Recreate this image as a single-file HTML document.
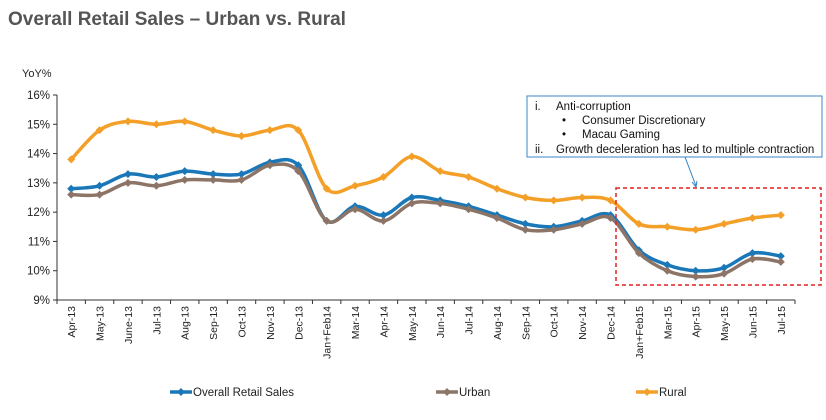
<!DOCTYPE html>
<html><head><meta charset="utf-8"><style>
body{margin:0;background:#fff;width:826px;height:415px;overflow:hidden;font-family:"Liberation Sans",sans-serif;}
svg text{font-family:"Liberation Sans",sans-serif;}
</style></head><body>
<svg id="c" width="826" height="415">
<text x="8" y="25" font-size="19" font-weight="bold" fill="#555">Overall Retail Sales – Urban vs. Rural</text>
<text x="22" y="77" font-size="11" fill="#222">YoY%</text>
<g id="axes"></g><g id="series"></g>
<rect x="616" y="188" width="205" height="97" fill="none" stroke="#e02020" stroke-width="1.5" stroke-dasharray="4,3"/>
<line x1="685" y1="157" x2="696" y2="186" stroke="#2f7fbf" stroke-width="1"/>
<path d="M692,182 L696,187 L697,181" fill="none" stroke="#2f7fbf" stroke-width="1"/>
<g>
<rect x="527" y="96" width="295" height="61" fill="#fff" stroke="#3b86c6" stroke-width="1"/>
<text font-size="11.5" fill="#111">
<tspan x="535" y="110">i.</tspan><tspan x="556" y="110">Anti-corruption</tspan>
<tspan x="562" y="124">•</tspan><tspan x="582" y="124">Consumer Discretionary</tspan>
<tspan x="562" y="138">•</tspan><tspan x="582" y="138">Macau Gaming</tspan>
<tspan x="535" y="153">ii.</tspan><tspan x="556" y="153">Growth deceleration has led to multiple contraction</tspan>
</text></g>
<g id="legend"></g>
</svg>
<script>
const categories=["Apr-13","May-13","June-13","Jul-13","Aug-13","Sep-13","Oct-13","Nov-13","Dec-13","Jan+Feb14","Mar-14","Apr-14","May-14","Jun-14","Jul-14","Aug-14","Sep-14","Oct-14","Nov-14","Dec-14","Jan+Feb15","Mar-15","Apr-15","May-15","Jun-15","Jul-15"];
const overall=[12.8,12.9,13.3,13.2,13.4,13.3,13.3,13.7,13.6,11.7,12.2,11.9,12.5,12.4,12.2,11.9,11.6,11.5,11.7,11.9,10.7,10.2,10.0,10.1,10.6,10.5];
const urban=[12.6,12.6,13.0,12.9,13.1,13.1,13.1,13.6,13.4,11.7,12.1,11.7,12.3,12.3,12.1,11.8,11.4,11.4,11.6,11.8,10.6,10.0,9.8,9.9,10.4,10.3];
const rural=[13.8,14.8,15.1,15.0,15.1,14.8,14.6,14.8,14.8,12.8,12.9,13.2,13.9,13.4,13.2,12.8,12.5,12.4,12.5,12.4,11.6,11.5,11.4,11.6,11.8,11.9];
const yTicks=[9,10,11,12,13,14,15,16];
const NS="http://www.w3.org/2000/svg";
const X0=57,X1=795,Y0=300,Y1=95;
const bw=(X1-X0)/categories.length;
const xS=i=>X0+bw*(i+0.5);
const yS=v=>Y0-(v-9)/7*(Y0-Y1);
function mk(t,a,p){const e=document.createElementNS(NS,t);for(const k in a)e.setAttribute(k,a[k]);p.appendChild(e);return e;}
const ax=document.getElementById('axes');
const yl=mk('line',{x1:X0,y1:Y1,x2:X0,y2:Y0,stroke:'#333'},ax);


const xl=mk('line',{x1:X0,y1:Y0,x2:X1,y2:Y0,stroke:'#333'},ax);


yTicks.forEach(v=>{
 mk('line',{x1:X0-4,y1:yS(v),x2:X0,y2:yS(v),stroke:'#333'},ax);
 const t=mk('text',{x:X0-7,y:yS(v)+4,'font-size':11.5,'text-anchor':'end',fill:'#222'},ax);
 t.textContent=v+'%';
 
 
});
for(let i=0;i<=categories.length;i++)mk('line',{x1:X0+bw*i,y1:Y0,x2:X0+bw*i,y2:Y0+4,stroke:'#333'},ax);
categories.forEach((c,i)=>{
 const x=xS(i)+4,y=Y0+6;
 const t=mk('text',{x:x,y:y,'font-size':10.5,'text-anchor':'end',fill:'#222',transform:`rotate(-90 ${x} ${y})`},ax);
 t.textContent=c;
 
 
});
function smooth(pts){let d=`M${pts[0][0]},${pts[0][1]}`;for(let i=0;i<pts.length-1;i++){const p0=pts[i-1]||pts[i],p1=pts[i],p2=pts[i+1],p3=pts[i+2]||p2;const t=0.5/3;d+=` C${p1[0]+(p2[0]-p0[0])*t},${p1[1]+(p2[1]-p0[1])*t} ${p2[0]-(p3[0]-p1[0])*t},${p2[1]-(p3[1]-p1[1])*t} ${p2[0]},${p2[1]}`;}return d;}
const sg=document.getElementById('series');
function drawSeries(vals,color,name){
 const g=mk('g',{},sg);
 
 
 const pts=vals.map((v,i)=>[xS(i),yS(v)]);
 mk('path',{d:smooth(pts),fill:'none',stroke:color,'stroke-width':3.5},g);
 pts.forEach(p=>{const m=mk('path',{d:`M${p[0]-4},${p[1]} L${p[0]},${p[1]-4} L${p[0]+4},${p[1]} L${p[0]},${p[1]+4}Z`,fill:color},g);
 
 });
}
drawSeries(rural,'#f4a028','rural');
drawSeries(overall,'#1a78b8','overall');
drawSeries(urban,'#8c7467','urban');
const lg=document.getElementById('legend');
[['Overall Retail Sales','#1a78b8',170],['Urban','#8c7467',436],['Rural','#f4a028',636]].forEach(([n,c,x])=>{
 const g=mk('g',{},lg);
 
 
 mk('line',{x1:x,y1:392,x2:x+22,y2:392,stroke:c,'stroke-width':3.5},g);
 mk('path',{d:`M${x+7},392 L${x+11},388 L${x+15},392 L${x+11},396Z`,fill:c},g);
 const t=mk('text',{x:x+23,y:396,'font-size':11.5,fill:'#222'},g);t.textContent=n;
});
</script>
</body></html>
